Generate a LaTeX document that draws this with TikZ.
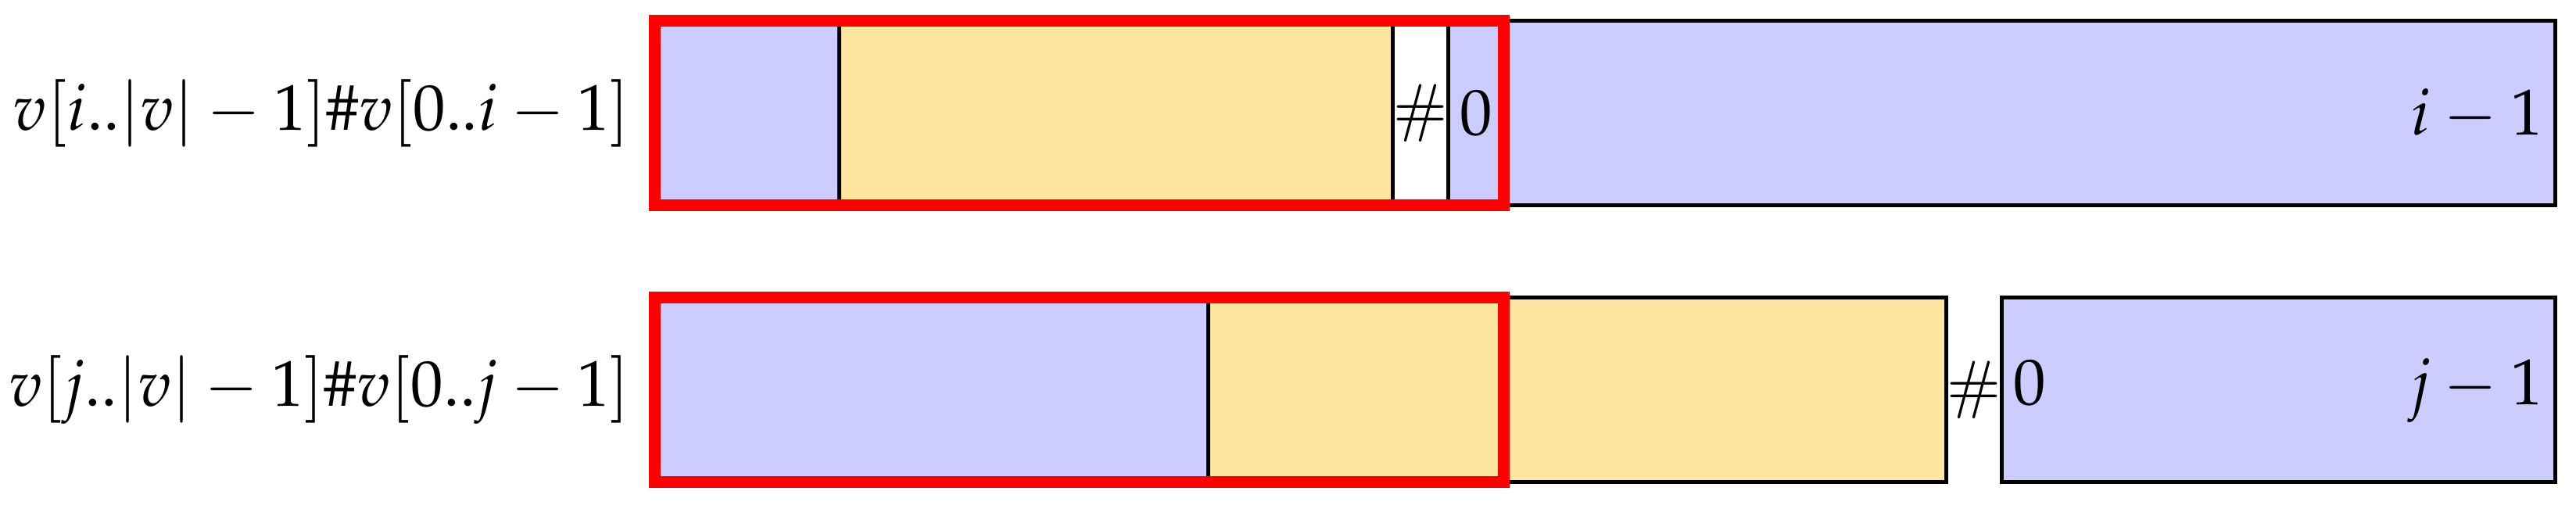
\documentclass[tikz,border=0pt]{standalone}
\usepackage{amsmath}
\usepackage{mathpazo}
\usepackage{tikz}
\usetikzlibrary{positioning}
\definecolor{mblue}{RGB}{204, 204, 255}
\definecolor{myellow}{RGB}{254, 230, 160}
\newcommand{\sephash}{\textbf{\#}}

\begin{document}
\begin{tikzpicture}[
    bluecell/.style={draw, semithick, fill=mblue},
    yellowcell/.style={draw, semithick, fill=myellow},
    sepcell/.style={draw, semithick, fill=white},
    window/.style={draw=red, line width=1.8pt}
  ]
      \useasboundingbox (-3.549, -0.144) rectangle (10.413, 2.614);

      % first rotation
      \draw [bluecell] (0, 1.5) rectangle (1, 2.5);
      \draw [yellowcell] (1, 1.5) rectangle (4, 2.5);
      \draw [sepcell] (4, 1.5) rectangle (4.3, 2.5);
      \draw [bluecell] (4.3, 1.5) rectangle (10.3, 2.5);
      \node (hashi) at (4.15, 2) {\sephash};
      \node [anchor=base] (zeroi) at (4.45, 1.884) {$0$};
      \node [anchor=base east, inner sep=0pt] (endi) at (10.24, 1.884) {$i-1$};
      \draw [window] (0, 1.5) rectangle (4.6, 2.5);
      \node [anchor=east] (rowi) at (-0.01, 2) {$v[i..|v|-1]\#v[0..i-1]$};

      % second rotation
      \draw [bluecell] (0, 0) rectangle (3, 1);
      \draw [yellowcell] (3, 0) rectangle (7, 1);
      \draw [bluecell] (7.3, 0) rectangle (10.3, 1);
      \node (hashj) at (7.15, 0.5) {\sephash};
      \node [anchor=base] (zeroj) at (7.45, 0.4225) {$0$};
      \node [anchor=base east, inner sep=0pt] (endj) at (10.24, 0.4225) {$j-1$};
      \draw [window] (0, 0) rectangle (4.6, 1);
      \node [anchor=east] (rowj) at (-0.01, 0.5) {$v[j..|v|-1]\#v[0..j-1]$};
    \end{tikzpicture}
\end{document}
